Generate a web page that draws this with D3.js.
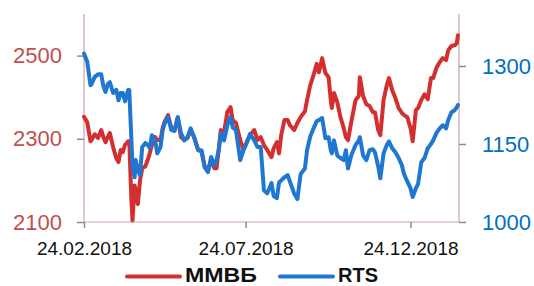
<!DOCTYPE html>
<html><head><meta charset="utf-8">
<script src="https://cdn.jsdelivr.net/npm/d3@7"></script>
<style>html,body{margin:0;padding:0;background:#fff;} svg{display:block;}</style>
</head><body>
<script>
const dates = ["2018-02-24","2018-02-27","2018-03-02","2018-03-03","2018-03-06","2018-03-09","2018-03-12","2018-03-14","2018-03-16","2018-03-18",
"2018-03-20","2018-03-23","2018-03-26","2018-03-28","2018-03-30","2018-04-01","2018-04-03","2018-04-06","2018-04-07","2018-04-09",
"2018-04-10","2018-04-12","2018-04-13","2018-04-15","2018-04-17","2018-04-19","2018-04-22","2018-04-25","2018-04-26","2018-04-28",
"2018-05-01","2018-05-03","2018-05-06","2018-05-08","2018-05-10","2018-05-13","2018-05-16","2018-05-19","2018-05-22","2018-05-25",
"2018-05-28","2018-05-31","2018-06-03","2018-06-06","2018-06-10","2018-06-13","2018-06-16","2018-06-19","2018-06-22","2018-06-25",
"2018-06-27","2018-06-29","2018-07-01","2018-07-04","2018-07-07","2018-07-10","2018-07-12","2018-07-15","2018-07-19","2018-07-22",
"2018-07-25","2018-07-28","2018-08-01","2018-08-04","2018-08-07","2018-08-10","2018-08-13","2018-08-17","2018-08-19","2018-08-22",
"2018-08-24","2018-08-26","2018-08-29","2018-09-01","2018-09-03","2018-09-07","2018-09-10","2018-09-13","2018-09-17","2018-09-19",
"2018-09-22","2018-09-25","2018-09-28","2018-09-30","2018-10-03","2018-10-06","2018-10-09","2018-10-11","2018-10-12","2018-10-14",
"2018-10-17","2018-10-20","2018-10-23","2018-10-25","2018-10-27","2018-10-30","2018-11-03","2018-11-06","2018-11-07","2018-11-10",
"2018-11-13","2018-11-16","2018-11-19","2018-11-21","2018-11-24","2018-11-26","2018-11-29","2018-12-02","2018-12-04","2018-12-07",
"2018-12-10","2018-12-13","2018-12-16","2018-12-18","2018-12-21","2018-12-24","2018-12-26","2018-12-29","2018-12-31","2019-01-03",
"2019-01-06","2019-01-09","2019-01-12","2019-01-14","2019-01-17","2019-01-20","2019-01-23","2019-01-26","2019-01-28","2019-01-31",
"2019-02-03","2019-02-05","2019-02-06"];

const mmvb = [2353,2340,2294,2297,2311,2302,2321,2304,2292,2304,
2314,2280,2253,2244,2273,2268,2285,2294,2294,2152,
2104,2188,2176,2143,2200,2229,2234,2256,2265,2285,
2304,2297,2297,2326,2342,2357,2326,2321,2350,2304,
2297,2302,2321,2306,2273,2270,2234,2222,2249,2229,
2229,2273,2321,2316,2364,2376,2345,2338,2297,2273,
2292,2309,2321,2297,2304,2285,2273,2256,2277,2292,
2265,2309,2345,2345,2333,2321,2338,2352,2366,2393,
2429,2453,2480,2460,2494,2458,2448,2393,2374,2410,
2388,2352,2326,2304,2297,2340,2393,2403,2448,2403,
2383,2379,2364,2364,2321,2309,2393,2429,2446,2417,
2398,2374,2362,2357,2352,2326,2294,2369,2374,2393,
2407,2395,2446,2446,2470,2484,2494,2489,2513,2523,
2525,2530,2549];

const rts = [1324,1308,1263,1265,1279,1284,1284,1261,1250,1265,
1269,1248,1254,1234,1248,1248,1232,1254,1254,1157,
1109,1086,1119,1100,1090,1144,1152,1146,1142,1167,
1157,1132,1144,1177,1190,1202,1177,1175,1202,1171,
1157,1163,1180,1163,1138,1138,1105,1096,1125,1109,
1119,1138,1171,1157,1186,1202,1182,1177,1119,1138,
1152,1169,1157,1144,1144,1061,1055,1075,1050,1046,
1076,1080,1086,1090,1078,1055,1044,1092,1103,1138,
1165,1180,1194,1196,1200,1161,1163,1138,1132,1157,
1128,1123,1119,1138,1103,1128,1148,1157,1163,1128,
1119,1138,1140,1134,1107,1084,1132,1148,1155,1142,
1134,1123,1109,1092,1078,1065,1048,1065,1073,1115,
1123,1142,1150,1157,1171,1180,1186,1180,1196,1211,
1215,1221,1225];

const xTickLabels = ["24.02.2018","24.07.2018","24.12.2018"];
const leftTicks = [2100,2300,2500];
const rightTicks = [1000,1150,1300];
const seriesNames = ["ММВБ","RTS"];
const colors = ["#d42f2f","#1f77d2"];

const W = 534, H = 286;
const parse = d3.timeParse("%Y-%m-%d");
const pd = d3.timeParse("%d.%m.%Y");
const svg = d3.select("body").append("svg").attr("width", W).attr("height", H);

const x = d3.scaleTime().domain([parse("2018-02-24"), parse("2019-02-07")]).range([84, 459]);
const yL = d3.scaleLinear().domain([2100, 2600]).range([222, 14]);
const yR = d3.scaleLinear().domain([1000, 1400]).range([222, 14]);

const axisCol = "#c9a3aa";
svg.append("line").attr("x1",84).attr("x2",84).attr("y1",14).attr("y2",222).attr("stroke",axisCol).attr("stroke-width",1.2);
svg.append("line").attr("x1",459).attr("x2",459).attr("y1",14).attr("y2",222).attr("stroke",axisCol).attr("stroke-width",1.2);
svg.append("line").attr("x1",84).attr("x2",459).attr("y1",222).attr("y2",222).attr("stroke",axisCol).attr("stroke-width",1.2);

const gL = svg.append("g").attr("transform","translate(84,0)")
  .call(d3.axisLeft(yL).tickValues(leftTicks).tickSize(7).tickPadding(15).tickFormat(d3.format("d")));
gL.select(".domain").remove();
gL.selectAll(".tick line").attr("stroke","#8c8c8c").attr("stroke-width",1.5);
gL.selectAll(".tick text").attr("fill","#c0504d").style("font-family","'Liberation Sans', Arial, sans-serif").style("font-size","22px");

const gR = svg.append("g").attr("transform","translate(459,0)")
  .call(d3.axisRight(yR).tickValues(rightTicks).tickSize(7).tickPadding(16).tickFormat(d3.format("d")));
gR.select(".domain").remove();
gR.selectAll(".tick line").attr("stroke","#8c8c8c").attr("stroke-width",1.5);
gR.selectAll(".tick text").attr("fill","#0070c0").style("font-family","'Liberation Sans', Arial, sans-serif").style("font-size","22px");

const gB = svg.append("g").attr("transform","translate(0,222)")
  .call(d3.axisBottom(x).tickValues(xTickLabels.map(s=>pd(s))).tickSize(6).tickPadding(14).tickFormat(d3.timeFormat("%d.%m.%Y")));
gB.select(".domain").remove();
gB.selectAll(".tick line").attr("stroke","#8c8c8c").attr("stroke-width",1.5);
gB.selectAll(".tick text").attr("fill","#111").style("font-family","'Liberation Sans', Arial, sans-serif").style("font-size","19px");

const dd = dates.map(parse);
const lineL = d3.line().x((d,i)=>x(dd[i])).y(d=>yL(d));
const lineR = d3.line().x((d,i)=>x(dd[i])).y(d=>yR(d));
svg.append("path").datum(mmvb).attr("d",lineL).attr("fill","none").attr("stroke",colors[0]).attr("stroke-width",4).attr("stroke-linejoin","round").attr("stroke-linecap","round");
svg.append("path").datum(rts).attr("d",lineR).attr("fill","none").attr("stroke",colors[1]).attr("stroke-width",4).attr("stroke-linejoin","round").attr("stroke-linecap","round");

const legX = [127, 280];
const legLen = [72, 40];
seriesNames.forEach((n,i)=>{
  const g = svg.append("g");
  g.append("line").attr("x1",legX[i]).attr("x2",legX[i]+53).attr("y1",276.5).attr("y2",276.5)
    .attr("stroke",colors[i]).attr("stroke-width",4).attr("stroke-linecap","round");
  g.append("text").attr("x",legX[i]+58).attr("y",281.5).text(n)
    .attr("textLength",legLen[i]).attr("lengthAdjust","spacingAndGlyphs")
    .attr("fill","#111").style("font-family","'Liberation Sans', Arial, sans-serif").style("font-size","20px").style("font-weight","bold");
});
</script>
</body></html>
